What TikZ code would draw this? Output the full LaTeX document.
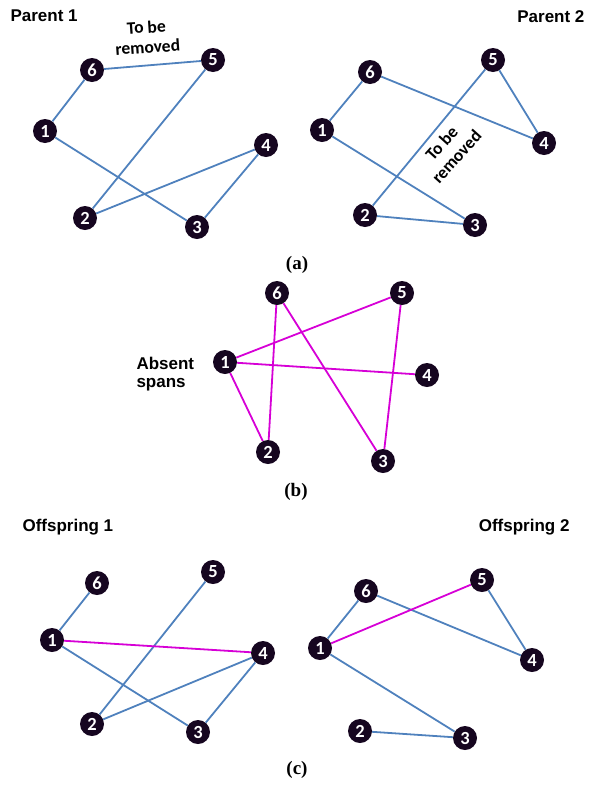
\documentclass[tikz,border=0pt]{standalone}
\usepackage{fontspec}
\usepackage{tikz}
\setmainfont{Liberation Serif}
\newfontfamily\headfont{Liberation Sans}
\newfontfamily\numfont{Carlito}
\definecolor{spanblue}{RGB}{79,129,189}
\definecolor{absent}{RGB}{214,0,214}
\definecolor{nodeink}{RGB}{22,6,32}

\begin{document}
\begin{tikzpicture}[x=1pt, y=-1pt,
	gene/.style={circle, fill=nodeink, inner sep=0pt, minimum size=24pt,
		text=white, font=\numfont\bfseries\fontsize{18.5}{18}\selectfont},
	span/.style={draw=spanblue, line width=1.8pt},
	gap/.style={draw=absent, line width=1.8pt},
	title/.style={font=\headfont\bfseries\fontsize{17}{18}\selectfont, align=left},
	note/.style={font=\numfont\bfseries\fontsize{17.5}{20}\selectfont, align=center},
	part/.style={font=\bfseries\fontsize{19}{20}\selectfont}]
\useasboundingbox (0,0) rectangle (590,785);

% parent 1
\node[title, anchor=west] (t1) at (7,16) {Parent 1};
\node[gene] (a6) at (92,70) {6};
\node[gene] (a5) at (213,60) {5};
\node[gene] (a1) at (45,131) {1};
\node[gene] (a4) at (266,145) {4};
\node[gene] (a2) at (85,218) {2};
\node[gene] (a3) at (197,227) {3};
\node[note, rotate=4] (r1) at (147,37) {To be\\removed};
\draw[span] (a6) -- (a5);
\draw[span] (a6) -- (a1);
\draw[span] (a1) -- (a3);
\draw[span] (a5) -- (a2);
\draw[span] (a2) -- (a4);
\draw[span] (a4) -- (a3);

% parent 2
\node[title, anchor=east] (t2) at (588,17) {Parent 2};
\node[gene] (b6) at (370,72) {6};
\node[gene] (b5) at (493,60) {5};
\node[gene] (b1) at (322,130) {1};
\node[gene] (b4) at (544,143) {4};
\node[gene] (b2) at (365,215) {2};
\node[gene] (b3) at (475,225) {3};
\node[note, rotate=48] (r2) at (449,150) {To be\\removed};
\draw[span] (b6) -- (b1);
\draw[span] (b6) -- (b4);
\draw[span] (b5) -- (b4);
\draw[span] (b5) -- (b2);
\draw[span] (b1) -- (b3);
\draw[span] (b2) -- (b3);

\node[part] (pa) at (297,265) {(a)};

% absent spans
\node[title, anchor=west] (t3) at (133,374) {Absent\\spans};
\node[gene] (c6) at (277,293) {6};
\node[gene] (c5) at (402,293) {5};
\node[gene] (c1) at (225,362) {1};
\node[gene] (c4) at (427,375) {4};
\node[gene] (c2) at (268,452) {2};
\node[gene] (c3) at (383,461) {3};
\draw[gap] (c1) -- (c5);
\draw[gap] (c1) -- (c4);
\draw[gap] (c1) -- (c2);
\draw[gap] (c6) -- (c2);
\draw[gap] (c6) -- (c3);
\draw[gap] (c5) -- (c3);

\node[part] (pb) at (296,492) {(b)};

% offspring 1
\node[title, anchor=west] (t4) at (19,527) {Offspring 1};
\node[gene] (d6) at (97,583) {6};
\node[gene] (d5) at (213,572) {5};
\node[gene] (d1) at (52,640) {1};
\node[gene] (d4) at (263,653) {4};
\node[gene] (d2) at (92,724) {2};
\node[gene] (d3) at (198,732) {3};
\draw[span] (d6) -- (d1);
\draw[span] (d5) -- (d2);
\draw[span] (d2) -- (d4);
\draw[span] (d4) -- (d3);
\draw[span] (d1) -- (d3);
\draw[gap] (d1) -- (d4);

% offspring 2
\node[title, anchor=east] (t5) at (573,527) {Offspring 2};
\node[gene] (e6) at (366,591) {6};
\node[gene] (e5) at (482,580) {5};
\node[gene] (e1) at (320,648) {1};
\node[gene] (e4) at (532,660) {4};
\node[gene] (e2) at (360,731) {2};
\node[gene] (e3) at (465,738) {3};
\draw[span] (e6) -- (e1);
\draw[span] (e6) -- (e4);
\draw[span] (e5) -- (e4);
\draw[span] (e1) -- (e3);
\draw[span] (e2) -- (e3);
\draw[gap] (e1) -- (e5);

\node[part] (pc) at (297,770) {(c)};
\end{tikzpicture}
\end{document}
